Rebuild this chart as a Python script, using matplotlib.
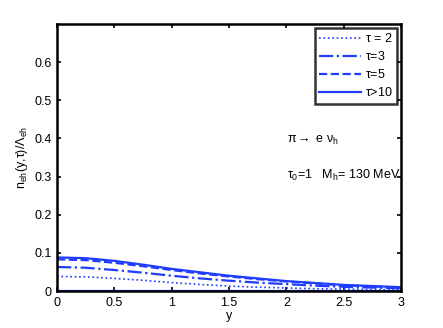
import matplotlib
matplotlib.use("Agg")
import matplotlib.pyplot as plt
import numpy as np

plt.rcParams['font.family'] = ['Liberation Sans', 'DejaVu Sans']
plt.rcParams['mathtext.fontset'] = 'custom'
plt.rcParams['mathtext.rm'] = 'Liberation Sans'
plt.rcParams['mathtext.it'] = 'Liberation Sans'

y = [0.0, 0.25, 0.5, 0.75, 1.0, 1.25, 1.5, 1.75, 2.0, 2.25, 2.5, 2.75, 3.0]
tau2 = [0.038, 0.037, 0.033, 0.028, 0.022, 0.017, 0.013, 0.010, 0.008, 0.006, 0.005, 0.004, 0.003]
tau3 = [0.063, 0.061, 0.055, 0.048, 0.040, 0.033, 0.027, 0.022, 0.018, 0.014, 0.011, 0.009, 0.007]
tau5 = [0.083, 0.081, 0.074, 0.065, 0.055, 0.046, 0.038, 0.031, 0.025, 0.020, 0.015, 0.012, 0.009]
tau10 = [0.088, 0.086, 0.079, 0.069, 0.058, 0.049, 0.040, 0.033, 0.026, 0.021, 0.016, 0.013, 0.010]
tau1 = [0.0] * len(y)

labels = [r'$\tau$ = 2', r'$\tau$=3', r'$\tau$=5', r'$\tau$>10']
color = '#1f3cff'

fig = plt.figure(figsize=(4.43, 3.28), dpi=100)
ax = fig.add_axes([57/443, 1-291/328, 344/443, 267/328])

ax.plot(y, tau2, ':', color=color, lw=1.2, label=labels[0])
ax.plot(y, tau3, '-.', color=color, lw=1.6, label=labels[1])
ax.plot(y, tau5, '--', color=color, lw=1.6, label=labels[2])
ax.plot(y, tau10, '-', color=color, lw=1.6, label=labels[3])
ax.plot(y, tau1, '-', color=color, lw=1.6)

ax.set_xlim(0, 3)
ax.set_ylim(0, 0.7)
ax.set_xticks([0, 0.5, 1, 1.5, 2, 2.5, 3])
ax.set_xticklabels(['0', '0.5', '1', '1.5', '2', '2.5', '3'])
ax.set_yticks([0, 0.1, 0.2, 0.3, 0.4, 0.5, 0.6])
ax.set_yticklabels(['0', '0.1', '0.2', '0.3', '0.4', '0.5', '0.6'])
ax.tick_params(direction='in', top=True, right=True, labelsize=9, length=3, width=1.2, pad=4)
for s in ax.spines.values():
    s.set_linewidth(1.8)

ax.set_xlabel('y', fontsize=9, labelpad=1)
ax.set_ylabel(r'n$_{\rm eh}$(y,$\tau$)/$\Lambda_{\rm eh}$', fontsize=9, labelpad=3)

ax.text(2.006, 0.395, r'$\pi\rightarrow$ e $\nu_{\rm h}$', fontsize=9, va='center')
ax.text(2.006, 0.304, r'$\tau_0$=1   M$_{\rm h}$= 130 MeV', fontsize=9, va='center')

leg = ax.legend(loc='upper right', fontsize=9, frameon=True, fancybox=False,
                edgecolor='black', handlelength=3.4, handletextpad=0.3,
                borderpad=0.35, labelspacing=0.4, borderaxespad=0.3)
leg.get_frame().set_linewidth(1.8)

fig.savefig('out.png', dpi=100)
